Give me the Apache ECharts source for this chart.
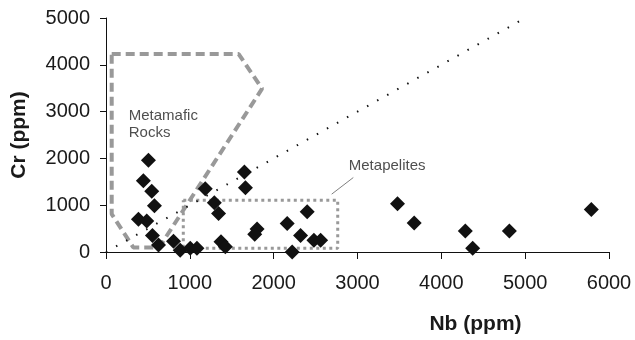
<!DOCTYPE html>
<html>
<head>
<meta charset="utf-8">
<script src="https://cdn.jsdelivr.net/npm/echarts@6/dist/echarts.min.js"></script>
<style>
html,body{margin:0;padding:0;background:#fff;}
#chart{width:635px;height:340px;}
</style>
</head>
<body>
<div id="chart"></div>
<script>
// Samples: Nb (ppm) vs Cr (ppm)
var nbValues = [506,446,546,578,387,486,554,626,805,885,1005,1085,1184,1292,1343,1372,1423,1651,1663,1802,1774,2161,2400,2321,2221,2480,2560,3477,3676,4286,4374,4812,5789];
var crValues = [1960,1520,1300,990,700,660,350,150,230,40,80,80,1350,1050,820,220,110,1710,1375,490,380,610,860,350,0,250,250,1030,620,450,80,450,910];

// 1:1 reference line
var refLineX = [0, 5000];
var refLineY = [0, 5000];

// Metamafic Rocks field (closed polygon)
var metamaficX = [68, 1583, 1862, 634, 326, 68, 68];
var metamaficY = [4230, 4230, 3490, 96, 96, 810, 4230];

// Metapelites field (box)
var metapeliteX = [922, 2764, 2764, 922, 922];
var metapeliteY = [1108, 1108, 79, 79, 1108];

// Leader line for Metapelites label
var leaderX = [2692, 2950];
var leaderY = [1236, 1591];

// Field labels
var fieldLabels = ['Metamafic\nRocks', 'Metapelites'];
var fieldLabelX = [265, 2890];
var fieldLabelY = [2727, 1832];

// Axis ticks
var xTicks = [0,1000,2000,3000,4000,5000,6000];
var yTicks = [0,1000,2000,3000,4000,5000];

function pairs(xs, ys){ return xs.map(function(x,i){ return [x, ys[i]]; }); }
function plain(v){ return String(v); }

var FONT = '"Liberation Sans", Arial, sans-serif';
var chart = echarts.init(document.getElementById('chart'), null, {renderer:'canvas'});
chart.setOption({
  animation: false,
  backgroundColor: '#ffffff',
  grid: {left:106, right:26, top:18, bottom:87, containLabel:false},
  xAxis: {
    type:'value', min:xTicks[0], max:xTicks[xTicks.length-1], interval:1000,
    name:'Nb (ppm)', nameLocation:'middle', nameGap:62,
    nameTextStyle:{fontFamily:FONT, fontSize:21, fontWeight:'bold', color:'#1a1a1a', padding:[0,0,0,236]},
    axisLine:{show:true, onZero:false, lineStyle:{color:'#111', width:1}},
    axisTick:{show:true, length:7, lineStyle:{color:'#111'}},
    axisLabel:{fontFamily:FONT, fontSize:20, color:'#1a1a1a', margin:21, formatter:plain},
    splitLine:{show:false}
  },
  yAxis: {
    type:'value', min:yTicks[0], max:yTicks[yTicks.length-1], interval:1000,
    name:'Cr (ppm)', nameLocation:'middle', nameRotate:90, nameGap:76,
    nameTextStyle:{fontFamily:FONT, fontSize:21, fontWeight:'bold', color:'#1a1a1a'},
    axisLine:{show:true, onZero:false, lineStyle:{color:'#111', width:1}},
    axisTick:{show:true, length:6, lineStyle:{color:'#111'}},
    axisLabel:{fontFamily:FONT, fontSize:20, color:'#1a1a1a', margin:16, formatter:plain},
    splitLine:{show:false}
  },
  series: [
    {
      type:'line', data:pairs(metamaficX, metamaficY), symbol:'none', silent:true,
      lineStyle:{color:'#999999', width:4, type:[9,5]}, z:2
    },
    {
      type:'line', data:pairs(metapeliteX, metapeliteY), symbol:'none', silent:true,
      lineStyle:{color:'#999999', width:3, type:[3,3.5]}, z:2
    },
    {
      type:'line', data:pairs(leaderX, leaderY), symbol:'none', silent:true,
      lineStyle:{color:'#808080', width:1}, z:2
    },
    {
      type:'line', data:pairs(refLineX, refLineY), symbol:'none', silent:true,
      lineStyle:{color:'#111', width:2, type:[1.5,10]}, z:3
    },
    {
      type:'scatter', data:pairs(nbValues, crValues), symbol:'diamond', symbolSize:15,
      itemStyle:{color:'#111111', opacity:1}, z:5
    },
    {
      type:'scatter', symbolSize:1, itemStyle:{color:'rgba(0,0,0,0)'}, silent:true, z:6,
      data: fieldLabels.map(function(t,i){ return {value:[fieldLabelX[i], fieldLabelY[i]], name:t}; }),
      label:{show:true, position:'right', distance:0, formatter:function(p){return p.name;},
        fontFamily:FONT, fontSize:15, lineHeight:17, color:'#222222', align:'left', verticalAlign:'middle'}
    }
  ]
});
</script>
</body>
</html>
